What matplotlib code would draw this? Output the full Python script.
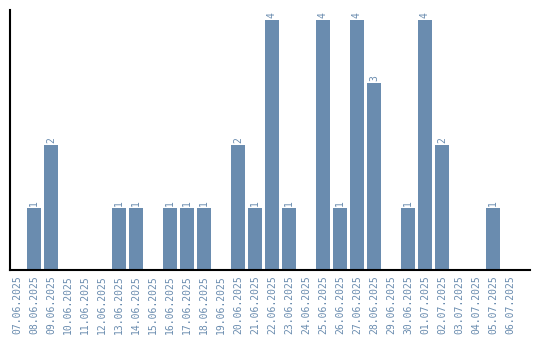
import matplotlib.pyplot as plt
import numpy as np

dates = ["07.06.2025", "08.06.2025", "09.06.2025", "10.06.2025", "11.06.2025",
         "12.06.2025", "13.06.2025", "14.06.2025", "15.06.2025", "16.06.2025",
         "17.06.2025", "18.06.2025", "19.06.2025", "20.06.2025", "21.06.2025",
         "22.06.2025", "23.06.2025", "24.06.2025", "25.06.2025", "26.06.2025",
         "27.06.2025", "28.06.2025", "29.06.2025", "30.06.2025", "01.07.2025",
         "02.07.2025", "03.07.2025", "04.07.2025", "05.07.2025", "06.07.2025"]
counts = [0, 1, 2, 0, 0, 0, 1, 1, 0, 1, 1, 1, 0, 2, 1, 4, 1, 0, 4, 1,
          4, 3, 0, 1, 4, 2, 0, 0, 1, 0]

color = '#6a8caf'
plt.rcParams['font.family'] = 'DejaVu Sans Mono'

fig = plt.figure(figsize=(5.4, 3.4), dpi=100)
ax = fig.add_axes([10/540, 70/340, 520/540, 260/340])

x = np.arange(len(dates))
bars = ax.bar(x, counts, width=0.82, color=color)

for xi, v in zip(x, counts):
    if v > 0:
        ax.text(xi, v + 0.03, str(v), rotation=90, ha='center', va='bottom',
                fontsize=7, color=color)

ax.set_xlim(-0.41, 30.18)
ax.set_ylim(0, 4.16)
ax.set_xticks(x)
ax.set_xticklabels(dates, rotation=90, fontsize=7, color=color)
ax.tick_params(axis='x', length=0, pad=4)
ax.set_yticks([])
ax.spines['top'].set_visible(False)
ax.spines['right'].set_visible(False)
ax.spines['left'].set_linewidth(1.5)
ax.spines['bottom'].set_linewidth(1.5)

fig.savefig('out.png', dpi=100)
